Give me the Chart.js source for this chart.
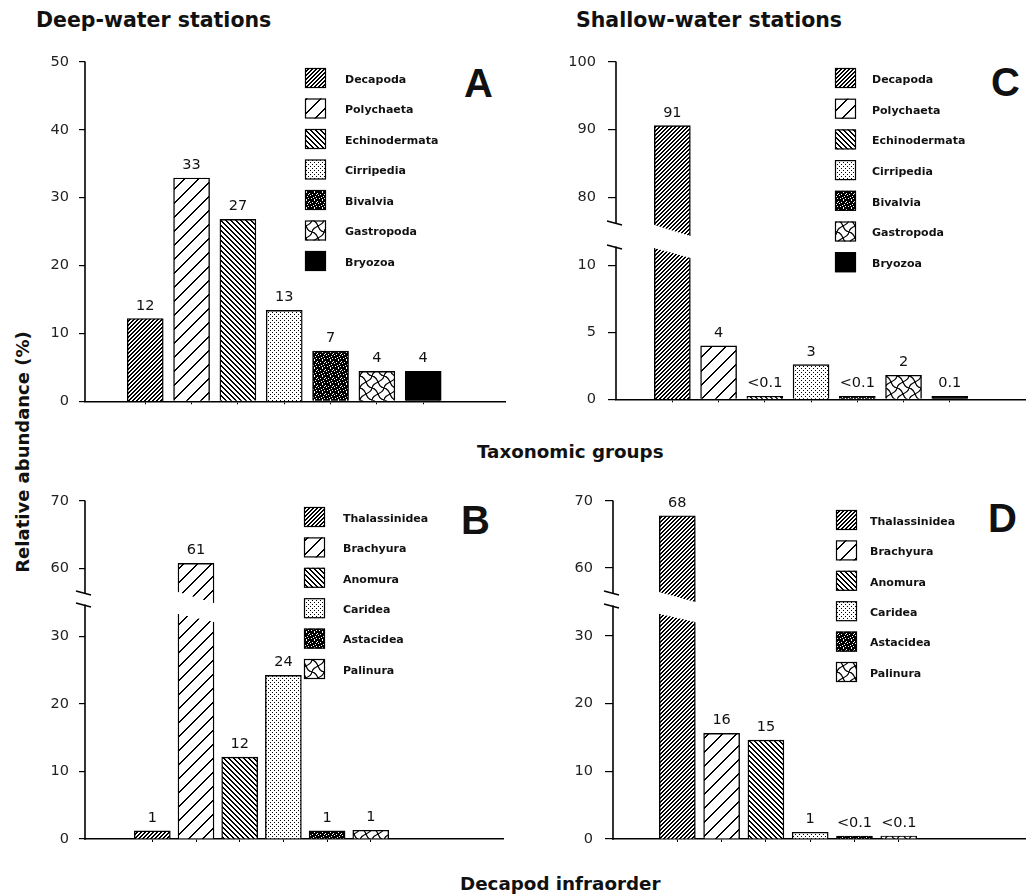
<!DOCTYPE html>
<html>
<head>
<meta charset="utf-8">
<title>Relative abundance of taxonomic groups and decapod infraorders</title>
<script src="https://cdn.jsdelivr.net/npm/chart.js@4.4.1/dist/chart.umd.min.js"></script>
<style>
  html, body { margin: 0; padding: 0; background: #fff; }
  #fig { position: relative; width: 1026px; height: 894px; overflow: hidden; background: #fff;
         font-family: "DejaVu Sans", "Liberation Sans", Arial, sans-serif; color: #111; }
  #fig canvas { position: absolute; }
  .lbl { position: absolute; white-space: nowrap; font-weight: bold; line-height: 1; }
  .big { font-family: "Liberation Sans", Arial, Helvetica, sans-serif; font-size: 40px; }
</style>
</head>
<body>
<div id="fig">
  <div class="lbl" style="left:36px;top:10px;font-size:20.5px">Deep-water stations</div>
  <div class="lbl" style="left:576px;top:10px;font-size:20.5px">Shallow-water stations</div>
  <div class="lbl" style="left:477px;top:443px;font-size:18.3px">Taxonomic groups</div>
  <div class="lbl" style="left:460px;top:875px;font-size:18.3px">Decapod infraorder</div>
  <div class="lbl" style="left:23px;top:452px;font-size:18px;transform:translate(-50%,-50%) rotate(-90deg)">Relative abundance (%)</div>
  <div class="lbl big" style="left:464px;top:63px">A</div>
  <div class="lbl big" style="left:991px;top:62px">C</div>
  <div class="lbl big" style="left:461px;top:500px">B</div>
  <div class="lbl big" style="left:988px;top:498px">D</div>
</div>
<script>
// ---- category names ----
const groupNames = ['Decapoda', 'Polychaeta', 'Echinodermata', 'Cirripedia', 'Bivalvia', 'Gastropoda', 'Bryozoa'];
const infraNames = ['Thalassinidea', 'Brachyura', 'Anomura', 'Caridea', 'Astacidea', 'Palinura'];

// ---- relative abundance (%) and the labels printed above the bars ----
const deepGroupValues    = [12.2, 32.9, 26.8, 13.4, 7.4, 4.4, 4.4];
const deepGroupText      = ['12', '33', '27', '13', '7', '4', '4'];
const shallowGroupValues = [90.6, 4.0, 0.05, 2.6, 0.05, 1.8, 0.1];
const shallowGroupText   = ['91', '4', '<0.1', '3', '<0.1', '2', '0.1'];
const deepInfraValues    = [1.2, 60.7, 12.1, 24.2, 1.2, 1.3];
const deepInfraText      = ['1', '61', '12', '24', '1', '1'];
const shallowInfraValues = [67.8, 15.6, 14.6, 1.0, 0.05, 0.05];
const shallowInfraText   = ['68', '16', '15', '1', '<0.1', '<0.1'];

// ---- y tick values ----
const ticksA       = [0, 10, 20, 30, 40, 50];
const ticksCUpper  = [80, 90, 100];
const ticksCLower  = [0, 5, 10];
const ticksUpper70 = [60, 70];
const ticksLower30 = [0, 10, 20, 30];

const FONT = '"DejaVu Sans", "Liberation Sans", Arial, sans-serif';

// ---- fill patterns (one per category position) ----
function bitmapPattern(w, h, isInk) {
  const c = document.createElement('canvas');
  c.width = w; c.height = h;
  const g = c.getContext('2d');
  const im = g.createImageData(w, h);
  for (let y = 0; y < h; y++) {
    for (let x = 0; x < w; x++) {
      const v = isInk(x, y) ? 0 : 255;
      const o = (y * w + x) * 4;
      im.data[o] = im.data[o + 1] = im.data[o + 2] = v;
      im.data[o + 3] = 255;
    }
  }
  g.putImageData(im, 0, 0);
  return g.createPattern(c, 'repeat');
}
function wavePattern() {
  const c = document.createElement('canvas');
  c.width = 12; c.height = 12;
  const g = c.getContext('2d');
  g.fillStyle = '#fff'; g.fillRect(0, 0, 12, 12);
  g.strokeStyle = '#000'; g.lineWidth = 1.3;
  g.beginPath(); g.moveTo(0, 0); g.bezierCurveTo(8, 1, 4, 11, 12, 12); g.stroke();
  g.beginPath(); g.moveTo(12, 0); g.bezierCurveTo(11, 7, 1, 5, 0, 12); g.stroke();
  return g.createPattern(c, 'repeat');
}
const SPECKLE = [
  '##.#####',
  '#####.##',
  '.###.###',
  '######.#',
  '###.####',
  '#.######',
  '####.##.',
  '##.#####'
];
const fills = [
  bitmapPattern(4, 4, (x, y) => (x + y) % 4 < 2),            // fine "/" hatch
  bitmapPattern(14, 14, (x, y) => (x + y) % 14 < 2),         // wide "/" hatch
  bitmapPattern(5, 5, (x, y) => (x - y + 10) % 5 < 2),       // "\" hatch
  bitmapPattern(4, 4, (x, y) => (x === 0 && y === 0) || (x === 2 && y === 2)), // stipple
  bitmapPattern(8, 8, (x, y) => SPECKLE[y][x] === '#'),     // dark speckle
  wavePattern(),                                             // wavy net
  '#000'                                                     // solid
];

// ---- per-canvas drawing extras: broken bars, axis line, value labels, legend ----
const specs = new WeakMap();
const panelPlugin = {
  id: 'panel',
  afterDatasetsDraw(chart) {
    const p = specs.get(chart.canvas);
    if (!p) return;
    const ctx = chart.ctx, a = chart.chartArea;
    const meta = chart.getDatasetMeta(0);
    const ys = chart.scales.y;
    ctx.save();

    // slanted cut through a bar that spans the axis break
    if (p.cut) {
      const el = meta.data[p.cut.index];
      const bl = el.x - el.width / 2, br = el.x + el.width / 2;
      const bottom = p.cut.edge === 'bottom';
      const edge = bottom ? a.bottom : a.top;
      const sgn = bottom ? -1 : 1;
      const yl = edge + sgn * p.cut.l, yr = edge + sgn * p.cut.r;
      const k = (yr - yl) / (br - bl);
      const x0 = bl - 3, x1 = br + 3;
      const y0 = yl - 3 * k, y1 = yr + 3 * k;
      const far = edge - sgn * 6;
      ctx.globalCompositeOperation = 'destination-out';
      ctx.beginPath();
      ctx.moveTo(x0, y0); ctx.lineTo(x1, y1); ctx.lineTo(x1, far); ctx.lineTo(x0, far);
      ctx.closePath(); ctx.fill();
      ctx.globalCompositeOperation = 'source-over';
    }

    // y axis line (interrupted at the break)
    const ax = a.left;
    const yTop = a.top, yBot = a.bottom - (p.axisGap || 0);
    ctx.strokeStyle = '#000'; ctx.lineWidth = 1.6; ctx.lineCap = 'butt';
    ctx.beginPath(); ctx.moveTo(ax, yTop - 0.5); ctx.lineTo(ax, yBot + (p.xAxis ? 0.8 : 0)); ctx.stroke();
    if (p.breakMark) {
      const yb = p.breakMark === 'bottom' ? yBot : yTop;
      ctx.lineWidth = 1.3;
      ctx.beginPath(); ctx.moveTo(ax - 9, yb - 2); ctx.lineTo(ax + 6, yb + 2); ctx.stroke();
    }

    // value labels above bars
    ctx.font = '14.5px ' + FONT;
    ctx.fillStyle = '#111'; ctx.textAlign = 'center'; ctx.textBaseline = 'alphabetic';
    meta.data.forEach((el, i) => {
      const v = p.values[i];
      if (v < ys.min || v > ys.max) return;
      ctx.fillText(p.text[i], el.x, el.y - 9);
    });

    // legend
    if (p.legend) {
      const cx = p.box[0], cy = p.box[1], lg = p.legend;
      ctx.font = 'bold 11px ' + FONT;
      ctx.textAlign = 'left'; ctx.textBaseline = 'middle';
      lg.names.forEach((name, i) => {
        const x = lg.x - cx, y = lg.y + i * lg.dy - cy;
        ctx.fillStyle = fills[i];
        ctx.fillRect(x, y, 21, 20);
        ctx.lineWidth = 1.2; ctx.strokeStyle = '#000';
        ctx.strokeRect(x + 0.5, y + 0.5, 20, 19);
        ctx.fillStyle = '#111';
        ctx.fillText(name, lg.tx - cx, y + 12);
      });
    }
    ctx.restore();
  }
};

const fig = document.getElementById('fig');
const Y_W = 60, X_H = 8;

function panelChart(p) {
  const [cx, cy, cw, ch] = p.box;
  const [L, T, R, B] = p.area;
  const cv = document.createElement('canvas');
  cv.width = cw; cv.height = ch;
  Object.assign(cv.style, { left: cx + 'px', top: cy + 'px', width: cw + 'px', height: ch + 'px' });
  fig.appendChild(cv);
  specs.set(cv, p);
  const xH = p.xAxis ? X_H : 0;
  return new Chart(cv, {
    type: 'bar',
    data: {
      datasets: [{
        data: p.values.map((v, i) => ({ x: i, y: v })),
        backgroundColor: p.values.map((v, i) => fills[i]),
        borderColor: '#000',
        borderWidth: 1.4,
        borderSkipped: 'start',
        barThickness: 36,
        // tiny values stay visible as thin boxes on the baseline segment only
        minBarLength: p.xAxis ? 3 : 0,
        clip: 0
      }]
    },
    options: {
      responsive: false,
      animation: false,
      events: [],
      layout: { padding: { left: L - cx - Y_W, top: T - cy, right: cx + cw - R, bottom: cy + ch - B - xH } },
      plugins: { legend: { display: false }, tooltip: { enabled: false } },
      scales: {
        x: {
          type: 'linear', bounds: 'data', min: p.xRange[0], max: p.xRange[1],
          display: !!p.xAxis,
          grid: { drawOnChartArea: false, tickLength: 3, color: '#000', lineWidth: 1 },
          border: { display: true, color: '#000', width: 1.6 },
          ticks: { display: false },
          afterBuildTicks: s => { s.ticks = p.values.slice(1).map((v, i) => ({ value: i + 0.5 })); },
          afterFit: s => { s.height = xH; }
        },
        y: {
          type: 'linear', bounds: 'data', min: p.yRange[0], max: p.yRange[1],
          grid: { drawOnChartArea: false, tickLength: p.tickLen, color: '#000', lineWidth: 1.2 },
          border: { display: false },
          ticks: { padding: p.tickPad, color: '#222', font: { family: FONT, size: 14.5 } },
          afterBuildTicks: s => { s.ticks = p.ticks.map(v => ({ value: v })); },
          afterFit: s => { s.width = Y_W; }
        }
      }
    },
    plugins: [panelPlugin]
  });
}

// A: deep-water stations, taxonomic groups
panelChart({ box: [0, 40, 513, 380], area: [85, 62, 505, 402], xAxis: true,
  xRange: [-0.545, 7.01], yRange: [0, 50], ticks: ticksA, tickLen: 6, tickPad: 10,
  values: deepGroupValues, text: deepGroupText,
  legend: { names: groupNames, x: 305, tx: 345, y: 68, dy: 30.5 } });

// C: shallow-water stations, taxonomic groups (broken axis)
panelChart({ box: [513, 40, 513, 380], area: [616, 62, 1026, 236], xAxis: false,
  xRange: [-0.48, 6.91], yRange: [74.3, 100], ticks: ticksCUpper, tickLen: 8, tickPad: 12,
  values: shallowGroupValues, text: shallowGroupText,
  cut: { index: 0, edge: 'bottom', l: 11, r: 0 }, axisGap: 13, breakMark: 'bottom' });
panelChart({ box: [513, 40, 513, 380], area: [616, 247, 1026, 402], xAxis: true,
  xRange: [-0.48, 6.91], yRange: [0, 11.4], ticks: ticksCLower, tickLen: 8, tickPad: 12,
  values: shallowGroupValues, text: shallowGroupText,
  cut: { index: 0, edge: 'top', l: 1, r: 11 }, breakMark: 'top',
  legend: { names: groupNames, x: 835, tx: 872, y: 68, dy: 30.7 } });

// B: deep-water stations, decapod infraorders (broken axis)
panelChart({ box: [0, 480, 513, 380], area: [85, 501, 503, 603], xAxis: false,
  xRange: [-0.584, 7.07], yRange: [54.8, 70], ticks: ticksUpper70, tickLen: 6, tickPad: 10,
  values: deepInfraValues, text: deepInfraText,
  cut: { index: 1, edge: 'bottom', l: 11, r: 0 }, axisGap: 10, breakMark: 'bottom' });
panelChart({ box: [0, 480, 513, 380], area: [85, 605, 503, 839], xAxis: true,
  xRange: [-0.584, 7.07], yRange: [0, 34.6], ticks: ticksLower30, tickLen: 6, tickPad: 10,
  values: deepInfraValues, text: deepInfraText,
  cut: { index: 1, edge: 'top', l: 9, r: 17 }, breakMark: 'top',
  legend: { names: infraNames, x: 304, tx: 343, y: 507, dy: 30.4 } });

// D: shallow-water stations, decapod infraorders (broken axis)
panelChart({ box: [513, 480, 513, 380], area: [613, 501, 1026, 602], xAxis: false,
  xRange: [-0.52, 6.94], yRange: [54.9, 70], ticks: ticksUpper70, tickLen: 8, tickPad: 12,
  values: shallowInfraValues, text: shallowInfraText,
  cut: { index: 0, edge: 'bottom', l: 10, r: 0 }, axisGap: 9, breakMark: 'bottom' });
panelChart({ box: [513, 480, 513, 380], area: [613, 606, 1026, 839], xAxis: true,
  xRange: [-0.52, 6.94], yRange: [0, 34.4], ticks: ticksLower30, tickLen: 8, tickPad: 12,
  values: shallowInfraValues, text: shallowInfraText,
  cut: { index: 0, edge: 'top', l: 8, r: 16 }, breakMark: 'top',
  legend: { names: infraNames, x: 836, tx: 870, y: 510, dy: 30.4 } });
</script>
</body>
</html>
